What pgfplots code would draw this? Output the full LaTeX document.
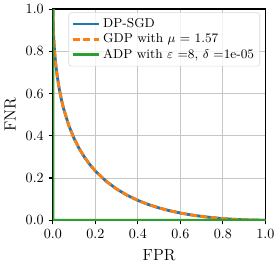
\documentclass[border=0pt]{standalone}
\usepackage{pgfplots}
\pgfplotsset{compat=1.18}
\definecolor{tabblue}{HTML}{1F77B4}
\definecolor{taborange}{HTML}{FF7F0E}
\definecolor{tabgreen}{HTML}{2CA02C}
\pgfplotstableread{
x y
0 1
0.0001 0.9842
0.001 0.9357
0.003 0.8806
0.005 0.8428
0.007 0.8125
0.01 0.7752
0.015 0.7257
0.02 0.6858
0.03 0.6221
0.04 0.5718
0.05 0.5299
0.075 0.4483
0.1 0.3865
0.125 0.3372
0.15 0.2968
0.175 0.2625
0.2 0.2330
0.25 0.1853
0.3 0.1479
0.35 0.1181
0.4 0.0940
0.45 0.0743
0.5 0.0582
0.55 0.0450
0.6 0.0341
0.65 0.0253
0.7 0.0181
0.75 0.0124
0.8 0.0079
0.85 0.0046
0.9 0.0022
0.95 0.00065
1 0
}\gdp
\pgfplotstableread{
x y
0 0.99999
0.000335 0.000335
0.99999 0
}\adp
\begin{document}
\begin{tikzpicture}
\begin{axis}[
  scale only axis,
  width=151pt, height=150pt,
  xmin=0, xmax=1, ymin=0, ymax=1,
  xtick={0,0.2,...,1}, ytick={0,0.2,...,1},
  xticklabel style={/pgf/number format/.cd,fixed,fixed zerofill,precision=1},
  yticklabel style={/pgf/number format/.cd,fixed,fixed zerofill,precision=1},
  tick align=outside, tick pos=left,
  major tick length=3pt,
  tick style={black, line width=0.8pt},
  axis line style={black, line width=1.1pt},
  grid=major,
  grid style={gray!45, line width=0.6pt},
  xlabel={FPR}, ylabel={FNR},
  label style={font=\fontsize{11.5}{13}\selectfont},
  xlabel style={yshift=-1pt},
  legend style={at={(0.975,0.985)}, anchor=north east, font=\fontsize{9.2}{11}\selectfont,
    draw=gray!30, fill=white, fill opacity=0.8, text opacity=1, rounded corners=2pt,
    row sep=-1pt, inner sep=2pt},
  legend cell align=left,
  legend image code/.code={\draw[#1] (0cm,0cm) -- (0.65cm,0cm);},
]
\addplot[tabblue, line width=2pt] table[x=x,y=y]{\gdp};
\addlegendentry{DP-SGD}
\addplot[taborange, line width=2pt, dash pattern=on 5pt off 2.3pt] table[x=x,y=y]{\gdp};
\addlegendentry{GDP with $\mu$ = 1.57}
\addplot[tabgreen, line width=2pt] table[x=x,y=y]{\adp};
\addlegendentry{ADP with $\varepsilon$ =8, $\delta$ =1e-05}
\end{axis}
\end{tikzpicture}
\end{document}
